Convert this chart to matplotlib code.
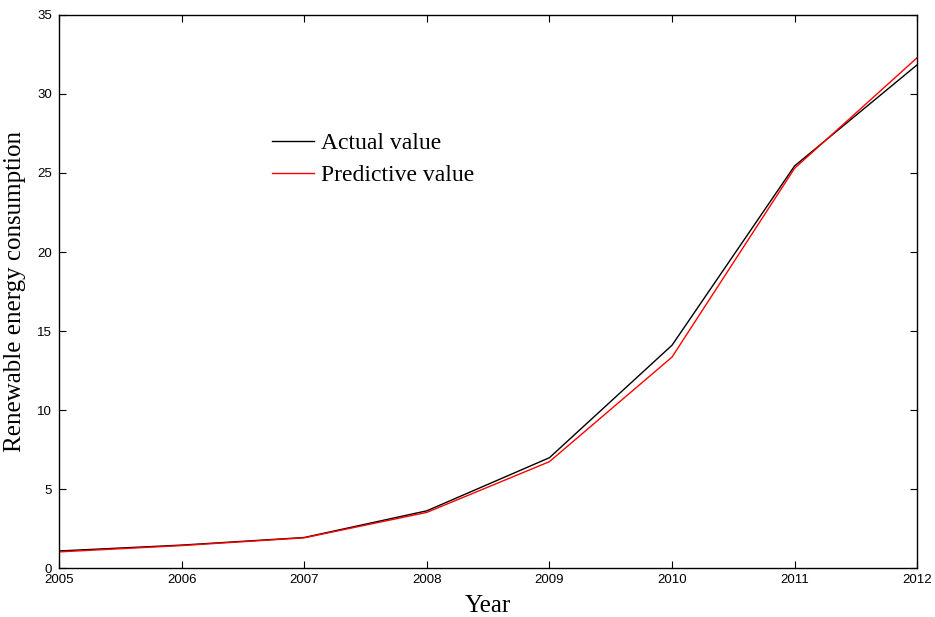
"""Renewable energy consumption: actual vs predicted, 2005-2012."""

import matplotlib as mpl
import matplotlib.pyplot as plt

YEARS = [2005, 2006, 2007, 2008, 2009, 2010, 2011, 2012]
ACTUAL = [1.08, 1.45, 1.93, 3.62, 6.98, 14.1, 25.45, 31.85]
PREDICTED = [1.02, 1.42, 1.91, 3.52, 6.73, 13.35, 25.3, 32.3]
Y_TICKS = [0, 5, 10, 15, 20, 25, 30, 35]

mpl.rcParams.update(
    {
        "font.family": "sans-serif",
        "font.sans-serif": ["Liberation Sans", "DejaVu Sans"],
        "xtick.direction": "in",
        "ytick.direction": "in",
        "xtick.top": True,
        "ytick.right": True,
        "xtick.major.size": 5,
        "ytick.major.size": 5,
        "xtick.major.pad": 4,
        "ytick.major.pad": 5,
        "xtick.labelsize": 9.5,
        "ytick.labelsize": 9.5,
        "axes.linewidth": 1.0,
    }
)

fig = plt.figure(figsize=(9.35, 6.17), dpi=100)
ax = fig.add_axes([0.0631, 0.0794, 0.9179, 0.8963])

ax.plot(YEARS, ACTUAL, color="black", lw=1.0, label="Actual value")
ax.plot(YEARS, PREDICTED, color="red", lw=1.0, label="Predictive value")

ax.set_xlim(2005, 2012)
ax.set_ylim(0, 35)
ax.set_xticks(YEARS)
ax.set_yticks(Y_TICKS)

serif = {"family": "Liberation Serif", "size": 18}
ax.set_xlabel("Year", fontdict=serif, labelpad=7)
ax.set_ylabel("Renewable energy consumption", fontdict=serif, labelpad=8)

ax.legend(
    loc="upper left",
    bbox_to_anchor=(0.237, 0.805),
    frameon=False,
    prop={"family": "Liberation Serif", "size": 17},
    handlelength=1.8,
    handletextpad=0.3,
    labelspacing=0.45,
    borderaxespad=0,
)

fig.savefig("out.png", dpi=100)
